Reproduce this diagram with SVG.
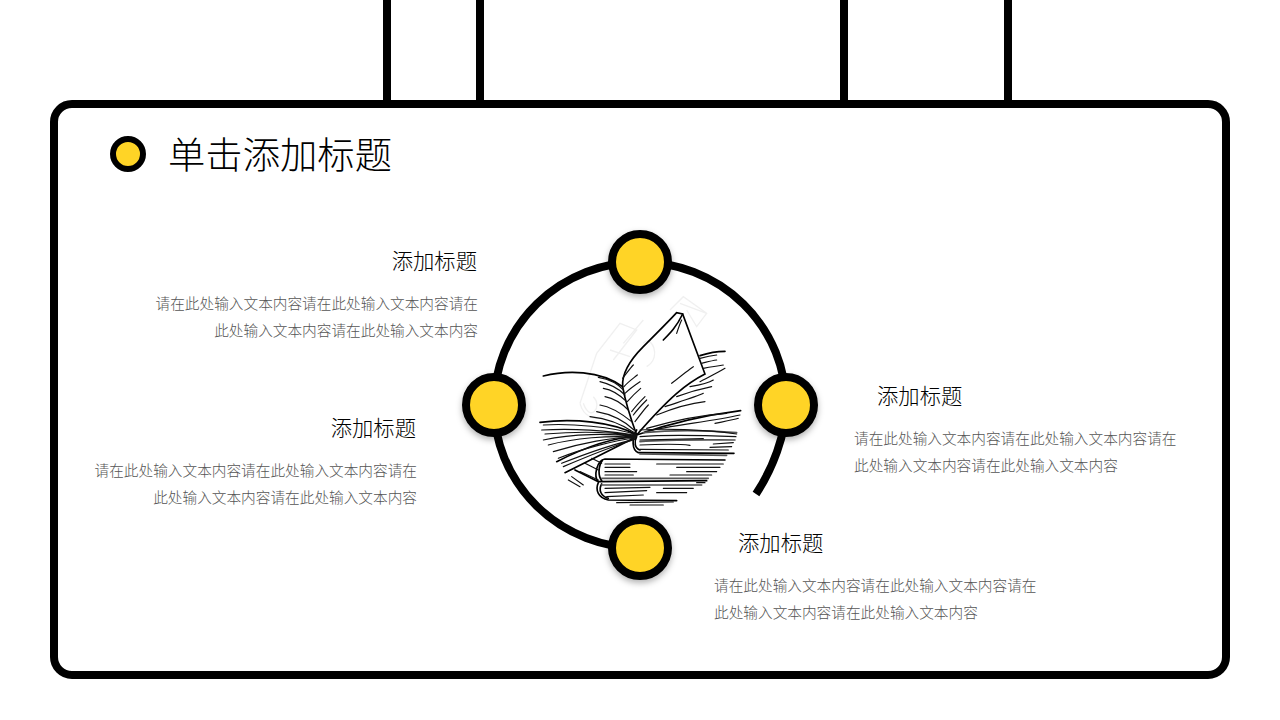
<svg xmlns="http://www.w3.org/2000/svg" width="1280" height="720" viewBox="0 0 1280 720">
<defs>
<filter id="sh" x="-30%" y="-30%" width="160%" height="170%"><feDropShadow dx="0" dy="3" stdDeviation="3" flood-color="#000" flood-opacity=".3"/></filter>
</defs>
<style>
text{font-family:"Noto Sans CJK SC","Noto Sans",sans-serif;font-weight:300}
.t{font-size:21.33px;fill:#000}
.b{font-size:14.67px;fill:#555}
.e{text-anchor:end}
.bar{stroke:#000;stroke-width:8;fill:none}
.dot{fill:#ffd426;stroke:#000;stroke-width:8}
.dot2{fill:#ffd426;stroke:#000;stroke-width:6}
.k{fill:none;stroke:#000;stroke-width:5;stroke-linecap:round}
.h{fill:none;stroke:#111;stroke-width:3.5;stroke-linecap:round}
.g{fill:none;stroke:#555;stroke-width:5;stroke-linecap:round}
.w{fill:none;stroke:#f0f0f0;stroke-width:4}
</style>
<rect width="1280" height="720" fill="#fff"/>
<g id="frame">
<path class="bar" d="M387 0V100M480 0V100M844 0V100M1008 0V100"/>
<rect class="bar" x="54" y="104" width="1172" height="571" rx="18"/>
</g>
<g id="connectors">
<path d="M494 405A146 143 0 0 1 640 262A146 143 0 0 1 786 405C786 435 772 470 756 494" fill="none" stroke="#000" stroke-width="8"/>
<path d="M494 405A146 143 0 0 0 640 548" fill="none" stroke="#000" stroke-width="8"/>
</g>
<g id="book" transform="translate(530 290) scale(.3333)">
<path class="w" d="M150 340L200 190L270 100L320 120L250 210M240 180L300 200M450 40L530 70L500 110L470 60M340 160C360 130 400 200 350 230M160 340C180 400 220 350 190 320M150 340C160 380 200 400 230 370M280 160L340 90M420 60L460 20L530 70"/>
<path class="k" d="M320 435C300 380 285 330 278 290C275 250 300 210 340 170C380 130 420 90 440 68L458 72L525 252C470 280 420 320 320 435"/>
<path class="k" d="M458 72C440 110 420 130 400 150M40 258C110 240 210 240 278 290M510 197C540 187 565 184 585 184M30 397C130 385 250 395 320 435M320 435C420 400 530 375 632 362"/>
<path class="k" d="M105 548L320 440M80 515C160 475 250 440 318 442M320 420C305 445 305 480 325 488L612 490M320 440C312 455 314 475 330 480M135 540L205 575M205 575C190 560 200 510 225 507L585 510M218 510C203 530 205 560 215 572M205 575L530 572M205 578C195 600 205 625 235 630L440 632M215 582C205 600 212 618 235 625"/>
<path class="h" d="M205 262C240 268 265 282 280 300M210 275C240 282 265 295 285 315M220 295C250 300 270 315 290 335M225 320C250 325 275 340 295 360M210 345C245 350 280 375 305 395M200 365C240 372 280 390 312 420M180 380C230 385 280 405 316 430M40 405C120 400 250 410 320 435M35 420C120 415 240 420 320 437M45 432C130 425 240 425 318 438M40 450C130 430 240 430 318 440M55 465C130 445 240 435 318 442M70 485C150 460 250 440 318 442M85 505C160 475 260 450 316 444M95 520C170 490 260 460 314 448M100 530C170 500 260 465 310 450M150 545L205 570M125 560L160 585M115 570L150 590M165 520L205 540M185 505L215 520"/>
<path class="h" d="M278 265C290 250 300 235 310 225M282 290C295 275 310 265 322 255M285 310C300 295 315 285 330 275M292 335C305 320 320 305 332 295M305 365C320 345 335 330 345 320M315 395C330 375 345 355 355 345M310 375C325 355 340 340 350 330M425 280C450 260 475 240 490 230M440 130C445 115 450 100 455 90M510 205C530 200 545 197 560 195M515 220C535 215 545 212 560 210M520 235C545 230 565 228 580 225M510 275C535 262 560 250 585 235M480 290C510 285 535 280 550 270M440 320C480 305 520 295 545 290M405 350C450 335 500 320 520 310M380 375C430 355 480 340 525 335M350 415C420 395 510 375 590 370M345 425C430 405 540 395 630 375M555 400C580 395 610 390 625 385"/>
<path class="g" d="M340 428C420 420 520 420 620 428M330 455C420 448 520 450 615 450M330 492L590 496M215 565L535 565M215 585L515 585"/>
<path class="h" d="M330 420C400 415 520 418 620 432M330 440C420 432 520 436 618 440M330 450L520 446M550 462L610 458M330 465C400 462 450 462 480 466M540 472L605 470M330 478L595 480M225 522L300 522M380 522L580 522M225 532L300 532M440 532L570 532M225 545L320 545M470 545L560 545M225 555L310 555M420 555L545 555M500 578L525 578M225 595L360 592M400 595L490 595M225 608L350 602M380 608L470 608M230 620L340 615M260 638L430 636M300 645L400 645"/>
</g>
<g id="title-marker"><circle class="dot2" cx="128" cy="154" r="15"/><text x="168" y="169" font-size="37.33" fill="#000">单击添加标题</text></g>
<g id="n-top"><circle class="dot" cx="640" cy="262" r="28" filter="url(#sh)"/></g>
<g id="n-left"><circle class="dot" cx="494" cy="405" r="28" filter="url(#sh)"/></g>
<g id="n-right"><circle class="dot" cx="786" cy="405" r="28" filter="url(#sh)"/></g>
<g id="n-bottom"><circle class="dot" cx="640" cy="548" r="28" filter="url(#sh)"/></g>
<g id="label-1"><text class="t e" x="477" y="269">添加标题</text><text class="b e" x="478" y="309">请在此处输入文本内容请在此处输入文本内容请在</text><text class="b e" x="478" y="336">此处输入文本内容请在此处输入文本内容</text></g>
<g id="label-2"><text class="t e" x="416" y="436">添加标题</text><text class="b e" x="417" y="476">请在此处输入文本内容请在此处输入文本内容请在</text><text class="b e" x="417" y="503">此处输入文本内容请在此处输入文本内容</text></g>
<g id="label-3"><text class="t" x="877" y="404">添加标题</text><text class="b" x="854" y="444">请在此处输入文本内容请在此处输入文本内容请在</text><text class="b" x="854" y="471">此处输入文本内容请在此处输入文本内容</text></g>
<g id="label-4"><text class="t" x="738" y="551">添加标题</text><text class="b" x="714" y="591">请在此处输入文本内容请在此处输入文本内容请在</text><text class="b" x="714" y="618">此处输入文本内容请在此处输入文本内容</text></g>
</svg>
